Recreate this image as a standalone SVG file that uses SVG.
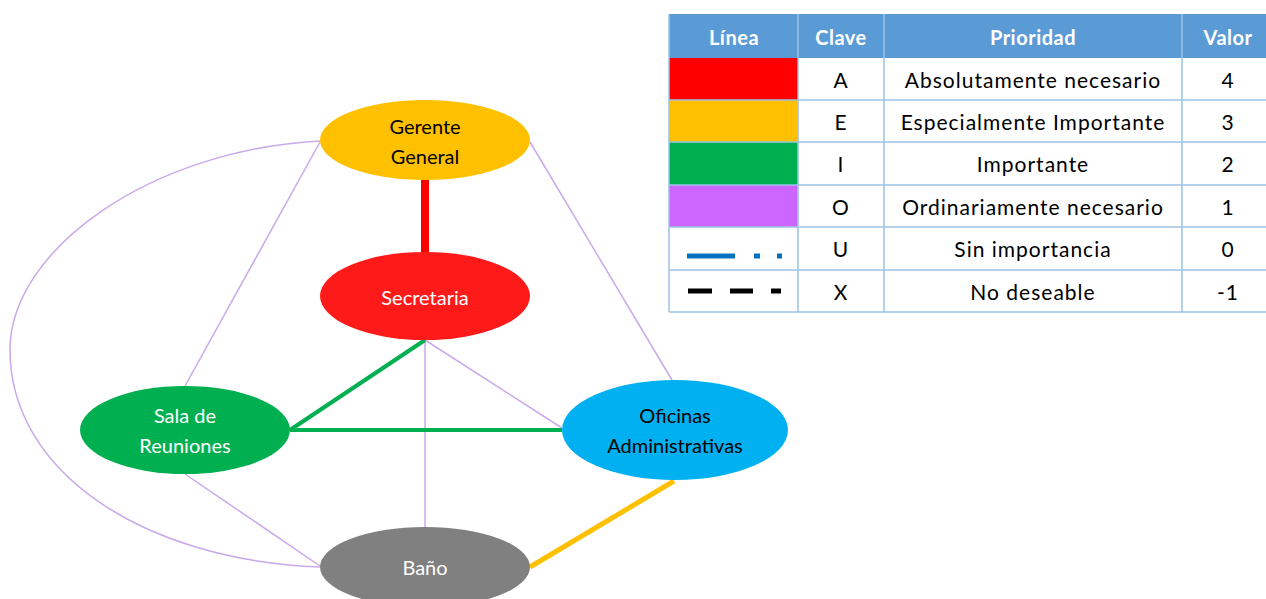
<svg xmlns="http://www.w3.org/2000/svg" width="1266" height="599" viewBox="0 0 1266 599">
<style>
.t{font-family:Lato,"Open Sans","Liberation Sans",sans-serif;font-size:20px;text-anchor:middle;dominant-baseline:central}
.c{font-size:21px;letter-spacing:1px}
.w{fill:#ffffff}
.b{fill:#000000}
.o{stroke:#c9a9ec;stroke-width:1.5;fill:none}
.g{stroke:#00b050;stroke-width:4;fill:none}
.grid{stroke:#9dc3e6;stroke-width:1.5}
.h{font-family:Lato,"Open Sans","Liberation Sans",sans-serif;font-size:20px;letter-spacing:0.5px;font-weight:bold;fill:#fff;text-anchor:middle;dominant-baseline:central}
</style>
<rect width="1266" height="599" fill="#ffffff"/>
<g id="connectors">
<path class="o" d="M320,141 C150,150 10,250 10,350 C10,470 140,560 320,567"/>
<line class="o" x1="320" y1="142" x2="185" y2="386"/>
<line class="o" x1="530" y1="142" x2="672" y2="380"/>
<line class="o" x1="425" y1="340" x2="562" y2="428"/>
<line class="o" x1="425" y1="340" x2="425" y2="528"/>
<line class="o" x1="185" y1="474" x2="320" y2="566"/>
<line x1="425" y1="180" x2="425" y2="253" stroke="#ff0000" stroke-width="8"/>
<line class="g" x1="425" y1="340" x2="290" y2="430"/>
<line class="g" x1="290" y1="430" x2="562" y2="430"/>
<line x1="674" y1="481" x2="530" y2="567" stroke="#ffc000" stroke-width="5"/>
</g>
<g id="gerente">
<ellipse cx="425" cy="140" rx="105" ry="40" fill="#ffc000"/>
<text class="t b" x="425" y="126">Gerente</text>
<text class="t b" x="425" y="156">General</text>
</g>
<g id="secretaria">
<ellipse cx="425" cy="296" rx="105" ry="44" fill="#ff1a1a"/>
<text class="t w" x="425" y="297">Secretaria</text>
</g>
<g id="sala">
<ellipse cx="185" cy="430" rx="105" ry="44" fill="#00b050"/>
<text class="t w" x="185" y="415">Sala de</text>
<text class="t w" x="185" y="445">Reuniones</text>
</g>
<g id="oficinas">
<ellipse cx="675" cy="430" rx="113" ry="50" fill="#00b0f0"/>
<text class="t b" x="675" y="415">Oficinas</text>
<text class="t b" x="675" y="445">Administrativas</text>
</g>
<g id="bano">
<ellipse cx="425" cy="567" rx="105" ry="40" fill="#808080"/>
<text class="t w" x="425" y="567">Baño</text>
</g>
<g id="tabla">
<rect x="669" y="14" width="597" height="44" fill="#5b9bd5"/>
<rect x="669" y="58" width="597" height="254" fill="#ffffff"/>
<rect x="669" y="58" width="129" height="42" fill="#ff0000"/>
<rect x="669" y="100" width="129" height="42" fill="#ffc000"/>
<rect x="669" y="142" width="129" height="43" fill="#00b050"/>
<rect x="669" y="185" width="129" height="42" fill="#cc66ff"/>
<g class="grid">
<line x1="669" y1="100" x2="1266" y2="100"/>
<line x1="669" y1="142" x2="1266" y2="142"/>
<line x1="669" y1="185" x2="1266" y2="185"/>
<line x1="669" y1="227" x2="1266" y2="227"/>
<line x1="669" y1="270" x2="1266" y2="270"/>
<line x1="669" y1="312" x2="1266" y2="312"/>
<line x1="669" y1="14" x2="669" y2="312"/>
<line x1="798" y1="14" x2="798" y2="312"/>
<line x1="884" y1="14" x2="884" y2="312"/>
<line x1="1182" y1="14" x2="1182" y2="312"/>
</g>
<line x1="687" y1="256" x2="735" y2="256" stroke="#0070c0" stroke-width="5"/>
<line x1="754" y1="256" x2="760" y2="256" stroke="#0070c0" stroke-width="5"/>
<line x1="777" y1="256" x2="782" y2="256" stroke="#0070c0" stroke-width="5"/>
<line x1="688" y1="291" x2="712" y2="291" stroke="#000" stroke-width="5"/>
<line x1="730" y1="291" x2="753" y2="291" stroke="#000" stroke-width="5"/>
<line x1="771" y1="291" x2="781" y2="291" stroke="#000" stroke-width="5"/>
<text class="h" x="734" y="37">Línea</text>
<text class="h" x="841" y="37">Clave</text>
<text class="h" x="1033" y="37">Prioridad</text>
<text class="h" x="1228" y="37">Valor</text>
<text class="t c b" x="841" y="79">A</text>
<text class="t c b" x="1033" y="79">Absolutamente necesario</text>
<text class="t c b" x="1228" y="79">4</text>
<text class="t c b" x="841" y="121">E</text>
<text class="t c b" x="1033" y="121">Especialmente Importante</text>
<text class="t c b" x="1228" y="121">3</text>
<text class="t c b" x="841" y="163">I</text>
<text class="t c b" x="1033" y="163">Importante</text>
<text class="t c b" x="1228" y="163">2</text>
<text class="t c b" x="841" y="206">O</text>
<text class="t c b" x="1033" y="206">Ordinariamente necesario</text>
<text class="t c b" x="1228" y="206">1</text>
<text class="t c b" x="841" y="248">U</text>
<text class="t c b" x="1033" y="248">Sin importancia</text>
<text class="t c b" x="1228" y="248">0</text>
<text class="t c b" x="841" y="291">X</text>
<text class="t c b" x="1033" y="291">No deseable</text>
<text class="t c b" x="1228" y="291">-1</text>
</g>
</svg>
